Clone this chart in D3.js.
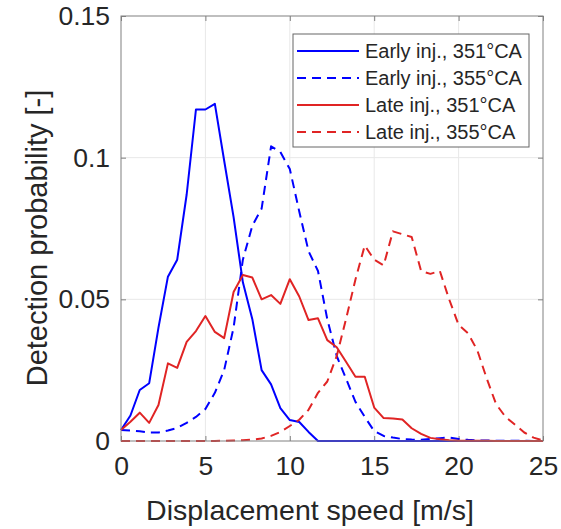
<!DOCTYPE html>
<html>
<head>
<meta charset="utf-8">
<script src="https://cdn.jsdelivr.net/npm/d3@7"></script>
<style>
body { margin: 0; background: #fff; }
text { font-family: "Liberation Sans", Arial, sans-serif; fill: #262626; }
</style>
</head>
<body>
<script>
// speed bins [m/s]
var speeds = [0, 0.56, 1.11, 1.67, 2.22, 2.78, 3.33, 3.89, 4.44, 5.00,
  5.56, 6.11, 6.67, 7.22, 7.78, 8.33, 8.89, 9.44, 10.00, 10.56,
  11.11, 11.67, 12.22, 12.78, 13.33, 13.89, 14.44, 15.00, 15.56, 16.11,
  16.67, 17.22, 17.78, 18.33, 18.89, 19.44, 20.00, 20.56, 21.11, 21.67,
  22.22, 22.78, 23.33, 23.89, 24.44, 25.00];

var early351 = [0.0039, 0.009, 0.018, 0.0204, 0.040, 0.058, 0.064, 0.087, 0.117, 0.117,
  0.119, 0.099, 0.079, 0.056, 0.043, 0.025, 0.020, 0.0116, 0.0074, 0.0067,
  0.0032, 0, 0, 0, 0, 0, 0, 0, 0, 0,
  0, 0, 0, 0, 0, 0, 0, 0, 0, 0,
  0, 0, 0, 0, 0, 0];

var early355 = [0.0039, 0.0037, 0.0034, 0.003, 0.003, 0.0037, 0.0046, 0.0064, 0.0085, 0.0113,
  0.017, 0.025, 0.040, 0.064, 0.076, 0.082, 0.104, 0.102, 0.096, 0.081,
  0.067, 0.060, 0.043, 0.030, 0.022, 0.0138, 0.0085, 0.0035, 0.0018, 0.0012,
  0.0007, 0.0005, 0.0004, 0.0007, 0.001, 0.0012, 0.0007, 0.0004, 0.0002, 0.0002,
  0.0001, 0.0001, 0.0001, 0.0001, 0, 0];

var late351 = [0.0039, 0.0068, 0.010, 0.0064, 0.0127, 0.0274, 0.0258, 0.035, 0.0388, 0.0441,
  0.0385, 0.0363, 0.0526, 0.0586, 0.0577, 0.050, 0.0515, 0.0484, 0.0571, 0.051,
  0.0427, 0.0433, 0.0356, 0.0331, 0.028, 0.0227, 0.0227, 0.0118, 0.0081, 0.0079,
  0.0076, 0.0045, 0.0025, 0.0011, 0.0006, 0.0003, 0.0001, 0.0001, 0.0001, 0.0001,
  0, 0, 0, 0, 0, 0];

var late355 = [0, 0, 0, 0, 0, 0, 0, 0, 0, 0,
  0, 0.0001, 0.0002, 0.0003, 0.0005, 0.0009, 0.0018, 0.0032, 0.0053, 0.0075,
  0.011, 0.017, 0.021, 0.030, 0.043, 0.057, 0.069, 0.064, 0.062, 0.074,
  0.073, 0.072, 0.060, 0.059, 0.060, 0.050, 0.041, 0.038, 0.032, 0.022,
  0.013, 0.0085, 0.0058, 0.003, 0.0012, 0.0002];

var legendNames = ["Early inj., 351\u00B0CA", "Early inj., 355\u00B0CA", "Late inj., 351\u00B0CA", "Late inj., 355\u00B0CA"];
var xTicks = [0, 5, 10, 15, 20, 25];
var yTicks = [0, 0.05, 0.1, 0.15];
var yTickLabels = ["0", "0.05", "0.1", "0.15"];

var W = 561, H = 529;
var pLeft = 121, pRight = 543, pTop = 16, pBottom = 441;

var series = [
  {name: legendNames[0], values: early351, color: "#0000ff", dash: null},
  {name: legendNames[1], values: early355, color: "#0000ff", dash: "9,6"},
  {name: legendNames[2], values: late351, color: "#e02424", dash: null},
  {name: legendNames[3], values: late355, color: "#e02424", dash: "9,6"}
];

var xScale = d3.scaleLinear().domain([0, 25]).range([pLeft, pRight]);
var yScale = d3.scaleLinear().domain([0, 0.15]).range([pBottom, pTop]);

var svg = d3.select("body").append("svg")
  .attr("width", W)
  .attr("height", H);

// grid
svg.append("g").selectAll("line")
  .data(xTicks.slice(1, -1))
  .enter().append("line")
  .attr("x1", d => xScale(d)).attr("x2", d => xScale(d))
  .attr("y1", pTop).attr("y2", pBottom)
  .attr("stroke", "#e8e8e8").attr("stroke-width", 1);

svg.append("g").selectAll("line")
  .data(yTicks.slice(1, -1))
  .enter().append("line")
  .attr("x1", pLeft).attr("x2", pRight)
  .attr("y1", d => yScale(d)).attr("y2", d => yScale(d))
  .attr("stroke", "#e8e8e8").attr("stroke-width", 1);

// axes, ticks pointing inward
var xAxis = d3.axisBottom(xScale).tickValues(xTicks).tickSize(-5).tickPadding(15);
var yAxis = d3.axisLeft(yScale).tickValues(yTicks).tickSize(-5).tickPadding(11)
  .tickFormat((d, i) => yTickLabels[i]);

svg.append("g").attr("transform", "translate(0," + pBottom + ")").call(xAxis);
svg.append("g").attr("transform", "translate(" + pLeft + ",0)").call(yAxis);

svg.append("g").attr("transform", "translate(0," + pTop + ")")
  .call(d3.axisTop(xScale).tickValues(xTicks).tickSize(-5).tickFormat(""));
svg.append("g").attr("transform", "translate(" + pRight + ",0)")
  .call(d3.axisRight(yScale).tickValues(yTicks).tickSize(-5).tickFormat(""));

svg.selectAll(".domain").remove();
svg.selectAll(".tick line").attr("stroke", "#808080");
svg.selectAll(".tick text")
  .style("font-family", "'Liberation Sans', Arial, sans-serif")
  .style("font-size", "26.5px")
  .attr("fill", "#262626");

// lines
var line = d3.line()
  .x((d, i) => xScale(speeds[i]))
  .y(d => yScale(d));

series.forEach(function(s) {
  svg.append("path")
    .datum(s.values)
    .attr("d", line)
    .attr("fill", "none")
    .attr("stroke", s.color)
    .attr("stroke-width", 2)
    .attr("stroke-dasharray", s.dash)
    .attr("stroke-linejoin", "round");
});

// box
svg.append("rect")
  .attr("x", pLeft).attr("y", pTop)
  .attr("width", pRight - pLeft).attr("height", pBottom - pTop)
  .attr("fill", "none").attr("stroke", "#808080").attr("stroke-width", 1);

// labels
svg.append("text")
  .attr("x", 310).attr("y", 520)
  .attr("text-anchor", "middle")
  .style("font-size", "28.5px")
  .text("Displacement speed [m/s]");

svg.append("text")
  .attr("transform", "translate(47,238) rotate(-90)")
  .attr("text-anchor", "middle")
  .style("font-size", "29px")
  .text("Detection probability [-]");

// legend
var lg = svg.append("g");
lg.append("rect")
  .attr("x", 293).attr("y", 34)
  .attr("width", 236).attr("height", 113)
  .attr("fill", "#fff").attr("stroke", "#666").attr("stroke-width", 1);

series.forEach(function(s, i) {
  var yy = 51 + i * 27;
  lg.append("line")
    .attr("x1", 297).attr("x2", 359)
    .attr("y1", yy).attr("y2", yy)
    .attr("stroke", s.color)
    .attr("stroke-width", 2)
    .attr("stroke-dasharray", s.dash);
  lg.append("text")
    .attr("x", 365).attr("y", yy + 7)
    .style("font-size", "20px")
    .text(s.name);
});
</script>
</body>
</html>
